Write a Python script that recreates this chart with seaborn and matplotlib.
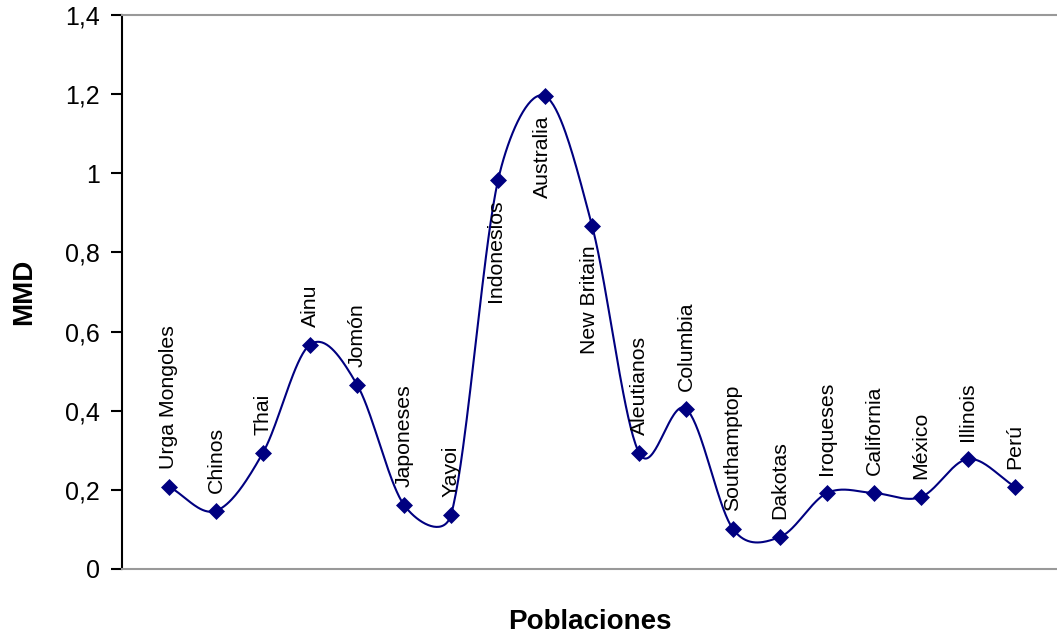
import numpy as np
import pandas as pd
import matplotlib
matplotlib.use("Agg")
import matplotlib.pyplot as plt
import seaborn as sns

# datos
poblaciones = ["Urga Mongoles", "Chinos", "Thai", "Ainu", "Jomón", "Japoneses",
               "Yayoi", "Indonesios", "Australia", "New Britain", "Aleutianos",
               "Columbia", "Southamptop", "Dakotas", "Iroqueses", "California",
               "México", "Illinois", "Perú"]
mmd = [0.208, 0.147, 0.294, 0.567, 0.466, 0.162, 0.137, 0.982, 1.195, 0.868,
       0.294, 0.405, 0.101, 0.081, 0.192, 0.192, 0.182, 0.278, 0.208]
etiqueta_abajo = ["Indonesios", "Australia", "New Britain"]
yticks = [0, 0.2, 0.4, 0.6, 0.8, 1.0, 1.2, 1.4]
ytick_labels = ["0", "0,2", "0,4", "0,6", "0,8", "1", "1,2", "1,4"]

df = pd.DataFrame({"Poblacion": poblaciones, "MMD": mmd})
df["pos"] = np.arange(1, len(df) + 1)


# linea suavizada como en Excel: bezier, brazos = min(d02/6, d12/2) en pixeles
def suavizar(pts, n=40):
    p = np.vstack([pts[0], pts, pts[-1]])
    out = []
    t = np.linspace(0, 1, n)[:, None]
    for i in range(1, len(p) - 2):
        p0, p1, p2, p3 = p[i - 1], p[i], p[i + 1], p[i + 2]
        d12 = np.linalg.norm(p2 - p1)
        d02 = np.linalg.norm(p2 - p0)
        d13 = np.linalg.norm(p3 - p1)
        f = min(1 / 6, 0.5 * d12 / d02) if d02 > 0 else 0
        g = min(1 / 6, 0.5 * d12 / d13) if d13 > 0 else 0
        if np.allclose(p0, p1):
            f = 1 / 3
        if np.allclose(p2, p3):
            g = 1 / 3
        c1 = p1 + (p2 - p0) * f
        c2 = p2 - (p3 - p1) * g
        seg = (1 - t) ** 3 * p1 + 3 * (1 - t) ** 2 * t * c1 + 3 * (1 - t) * t ** 2 * c2 + t ** 3 * p2
        out.append(seg)
    return np.vstack(out)


sns.set_style("white", {"text.color": "black", "axes.labelcolor": "black",
                        "ytick.color": "black"})
plt.rcParams['font.family'] = ['Liberation Sans', 'DejaVu Sans']

fig = plt.figure(figsize=(10.57, 6.37), dpi=100)
ax = fig.add_axes([122 / 1057, 68 / 637, 1 - 122 / 1057, (569 - 15) / 637])
ax.set_xlim(0, (1057 - 122) / 47)
ax.set_ylim(0, 1.4)

pix = ax.transData.transform(df[["pos", "MMD"]].to_numpy(float))
curva = ax.transData.inverted().transform(suavizar(pix))
sns.lineplot(x=curva[:, 0], y=curva[:, 1], sort=False, color="#000080",
             linewidth=1.5, ax=ax)
sns.scatterplot(data=df, x="pos", y="MMD", marker="D", s=75, color="#000080",
                edgecolor="#000080", linewidth=0, ax=ax, zorder=3)

for _, r in df.iterrows():
    if r["Poblacion"] in etiqueta_abajo:
        ax.annotate(r["Poblacion"], (r["pos"], r["MMD"]), xytext=(-1.5, -14),
                    textcoords="offset points", rotation=90, ha="center", va="top",
                    fontsize=15.3, color="black")
    else:
        ax.annotate(r["Poblacion"], (r["pos"], r["MMD"]), xytext=(0, 13),
                    textcoords="offset points", rotation=90, ha="center", va="bottom",
                    fontsize=15.3, color="black")

ax.set_yticks(yticks)
ax.set_yticklabels(ytick_labels, fontsize=18, color="black")
ax.set_xticks([])
ax.tick_params(axis="y", direction="out", length=8, width=1.5, left=True, pad=8,
               color="black")
ax.spines["left"].set_color("black")
ax.spines["left"].set_linewidth(1.5)
for s in ["top", "bottom"]:
    ax.spines[s].set_color("#999999")
    ax.spines[s].set_linewidth(1.5)
ax.spines["right"].set_visible(False)
ax.set_xlabel("Poblaciones", fontsize=20, fontweight="bold", labelpad=29, color="black")
ax.set_ylabel("MMD", fontsize=20, fontweight="bold", labelpad=20, color="black")

fig.savefig("out.png", dpi=100)
